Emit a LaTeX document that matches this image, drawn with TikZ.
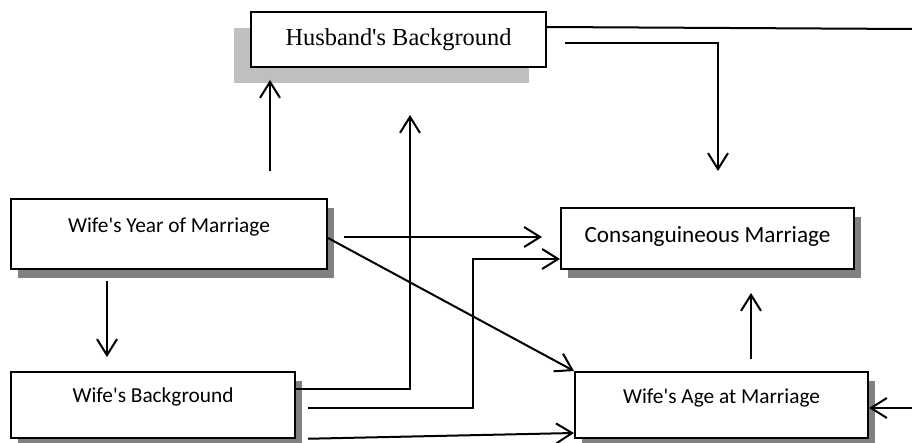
\documentclass[tikz,border=0pt]{standalone}
\usepackage{fontspec}
\setmainfont{Carlito}[Ligatures=TeXOff]
\newfontfamily\timesfont{Liberation Serif}
\usepackage{tikz}
\usetikzlibrary{arrows.meta,shadows}

\begin{document}
\begin{tikzpicture}[x=0.75pt,y=-0.75pt,
            dark shade/.style={drop shadow={shadow xshift=5.25pt,shadow yshift=-6.75pt,fill=black!50,opacity=1}},
            light shade/.style={drop shadow={shadow xshift=-12.75pt,shadow yshift=-12pt,fill=black!25,opacity=1}}]
            \useasboundingbox (0,0) rectangle (912,442);

            \begin{scope}[every node/.style={rectangle,draw=black,line width=1.5pt,fill=white,
                          inner ysep=0pt,font=\fontsize{16}{19}\selectfont}]
                \node[light shade,minimum width=221.25pt,text height=25.5pt,text depth=15.75pt,
                      font=\timesfont\fontsize{18.3}{22}\selectfont]
                      (husband) at (398.5,39.5) {Husband's Background};
                \node[dark shade,minimum width=237pt,text height=24.75pt,text depth=27.75pt]
                      (year) at (169,234) {Wife's Year of Marriage};
                \node[dark shade,minimum width=213pt,text height=22.5pt,text depth=27pt]
                      (wbg) at (153,405) {Wife's Background};
                \node[dark shade,minimum width=219.75pt,text height=25.5pt,text depth=20.25pt,
                      font=\fontsize{17.4}{20}\selectfont]
                      (cons) at (707.5,238.5) {Consanguineous Marriage};
                \node[dark shade,minimum width=219.75pt,text height=23.25pt,text depth=26.25pt]
                      (age) at (721.5,405) {Wife's Age at Marriage};
            \end{scope}

            \coordinate (hb up) at (410,115);
            \coordinate (loop top) at (912,29);
            \coordinate (loop bot) at (912,408);

            \begin{scope}[>={Straight Barb[length=12pt,width=15pt]},
                          line width=1.5pt]
                \draw [->,shorten <=20.25pt,shorten >=9pt] (270,0 |- year.north) -- (270,0 |- husband.south);
                \draw [->] (wbg.east |- 0,389) -| (hb up);
                \draw [->,shorten <=13.5pt,shorten >=27pt] (husband.east |- 0,43) -| (718,0 |- cons.north);
                \draw [-] (husband.east |- 0,27) -- (loop top);
                \draw [->] (loop bot) -- (age.east |- loop bot);
                \draw [->,shorten <=12pt,shorten >=13.5pt] (year.east |- 0,237) -- (cons.west |- 0,237);
                \draw [->] (year.east |- 0,238) -- (age.north west);
                \draw [->,shorten <=9pt] (wbg.east |- 0,408) -| (473,259) -- (cons.west |- 0,259);
                \draw [->,shorten <=9pt] (wbg.south east) -- (age.west |- 0,433);
                \draw [->,shorten <=8.25pt,shorten >=10.5pt] (107,0 |- year.south) -- (107,0 |- wbg.north);
                \draw [->,shorten <=9pt,shorten >=17.25pt] (751,0 |- age.north) -- (751,0 |- cons.south);
            \end{scope}
\end{tikzpicture}
\end{document}
